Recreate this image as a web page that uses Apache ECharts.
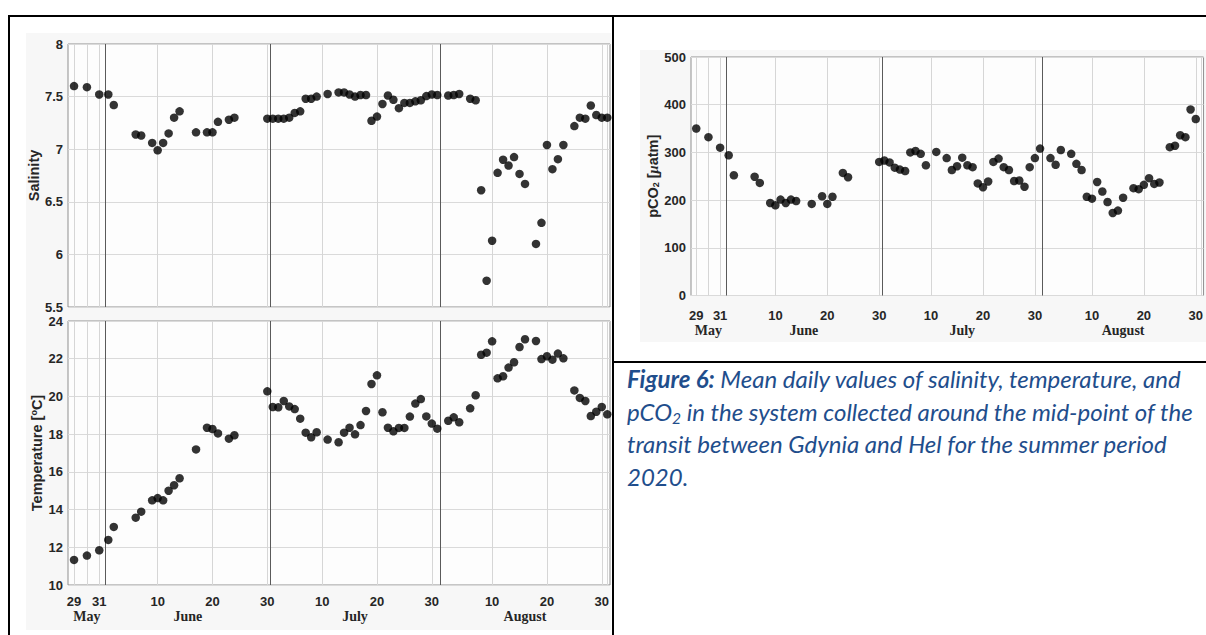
<!DOCTYPE html>
<html><head><meta charset="utf-8">
<script src="https://cdn.jsdelivr.net/npm/echarts@6/dist/echarts.min.js"></script>
<style>
html,body{margin:0;padding:0;width:1206px;height:635px;overflow:hidden;background:#fff;}
#chart{position:absolute;left:0;top:0;width:1206px;height:635px;z-index:2;}
.bg{position:absolute;background:#f7f7f7;z-index:1;}
.bd{position:absolute;background:#000;z-index:3;}
#caption{position:absolute;left:627px;top:363px;z-index:3;font-family:Lato,'Open Sans',sans-serif;font-style:italic;color:#1f4e8c;font-size:24px;line-height:32.7px;white-space:nowrap;}
#caption sub{font-size:0.65em;vertical-align:-0.2em;line-height:0;}
</style></head><body>
<div class="bg" style="left:26px;top:33px;width:585px;height:597px;"></div>
<div class="bg" style="left:640px;top:50px;width:566px;height:292px;"></div>
<div id="chart"></div>
<div class="bd" style="left:8px;top:15px;width:1198px;height:2px;"></div>
<div class="bd" style="left:8px;top:15px;width:2px;height:620px;"></div>
<div class="bd" style="left:612px;top:15px;width:2px;height:620px;"></div>
<div class="bd" style="left:612px;top:361px;width:594px;height:2px;"></div>
<div id="caption">
<div><b>Figure 6:</b> Mean daily values of salinity, temperature, and</div>
<div>pCO<sub>2</sub> in the system collected around the mid-point of the</div>
<div>transit between Gdynia and Hel for the summer period</div>
<div>2020.</div>
</div>
<script>
// x position of each daily mean on the figure's day axis (June 1 = 1; May 29-31 sit on the stretched left part)
const days = [-5.25, -2.9, -0.65, 1, 2, 6, 7, 9, 10, 11, 12, 13, 14, 17, 19, 20, 21, 23, 24, 30,
  31, 32, 33, 34, 35, 36, 37, 38, 39, 41, 43, 44, 45, 46, 47, 48, 49, 50, 51, 52, 53, 54, 55, 56, 57, 58, 59, 60, 61,
  63, 64, 65, 67, 68, 69, 70, 71, 72, 73, 74, 75, 76, 77, 79, 80, 81, 82, 83, 84, 86, 87, 88, 89, 90, 91, 92];
const salinity = [7.60, 7.59, 7.52, 7.52, 7.42, 7.14, 7.13, 7.06, 6.99, 7.06, 7.15, 7.30, 7.36, 7.16, 7.16, 7.16, 7.26, 7.28, 7.30, 7.29,
  7.29, 7.29, 7.29, 7.30, 7.345, 7.36, 7.48, 7.48, 7.50, 7.525, 7.54, 7.54, 7.52, 7.50, 7.515, 7.515, 7.27, 7.31, 7.43, 7.51, 7.47, 7.39, 7.44, 7.44, 7.455, 7.465, 7.505, 7.52, 7.515,
  7.51, 7.515, 7.525, 7.48, 7.465, 6.61, 5.75, 6.13, 6.775, 6.90, 6.845, 6.925, 6.765, 6.67, 6.10, 6.30, 7.04, 6.81, 6.905, 7.04, 7.22, 7.30, 7.29, 7.415, 7.325, 7.30, 7.30];
const temperature = [11.33, 11.56, 11.84, 12.39, 13.08, 13.57, 13.89, 14.49, 14.61, 14.49, 15.0, 15.29, 15.66, 17.19, 18.34, 18.27, 18.04, 17.76, 17.94, 20.27,
  19.44, 19.42, 19.76, 19.47, 19.33, 18.82, 18.08, 17.83, 18.1, 17.71, 17.57, 18.08, 18.34, 17.99, 18.48, 19.23, 20.66, 21.12, 19.16, 18.34, 18.15, 18.33, 18.33, 18.93, 19.62, 19.86, 18.94, 18.56, 18.29,
  18.71, 18.89, 18.63, 19.37, 20.06, 22.21, 22.32, 22.92, 20.96, 21.07, 21.53, 21.81, 22.62, 23.03, 22.94, 21.98, 22.13, 21.95, 22.27, 22.02, 20.32, 19.92, 19.76, 18.96, 19.19, 19.44, 19.05];
const pco2 = [350, 332, 310, 294, 252, 249, 236, 194, 189, 201, 194, 201, 198, 192, 208, 192, 207, 257, 248, 280,
  283, 279, 268, 264, 261, 300, 303, 297, 273, 301, 288, 263, 271, 289, 273, 269, 235, 227, 239, 280, 287, 269, 263, 240, 241, 228, 269, 288, 308,
  288, 274, 305, 297, 276, 263, 207, 203, 238, 218, 196, 173, 178, 205, 225, 223, 232, 246, 234, 237, 311, 314, 336, 332, 390, 370, null];

const tickPos = [-5.25, -0.65, 10, 20, 30, 40, 50, 60, 71, 81, 91];
const tickText = ['29', '31', '10', '20', '30', '10', '20', '30', '10', '20', '30'];
const monthPos = [-2.9, 15.5, 46, 77];
const monthText = ['May', 'June', 'July', 'August'];
const gridDays = [-5.25, -2.9, -0.65, 10, 20, 30, 40, 50, 60, 71, 81, 91, 92];
const monthEdges = [0.5, 30.5, 61.5];

const chart = echarts.init(document.getElementById('chart'), null, {renderer: 'svg'});
const sans = 'Liberation Sans, Arial, sans-serif';
const serif = 'Liberation Serif, Times New Roman, serif';

function lookup(pos, txt) {
  return function (v) {
    let best = 0, bd = 1e9;
    for (let i = 0; i < pos.length; i++) { const d = Math.abs(pos[i] - v); if (d < bd) { bd = d; best = i; } }
    return txt[best];
  };
}
const gridStyle = {show: true, backgroundColor: '#fdfdfd', borderColor: '#8f8f8f', borderWidth: 1};
function xBase(g, min, max) {
  return {type: 'value', gridIndex: g, min: min, max: max, position: 'bottom',
    axisLine: {show: false}, axisTick: {show: false}, splitLine: {show: false}};
}
function xTicks(g, min, max, margin) {
  const a = xBase(g, min, max);
  a.axisLabel = {show: true, customValues: tickPos, formatter: lookup(tickPos, tickText), margin: margin,
    fontFamily: sans, fontWeight: 'bold', fontSize: 13, color: '#262626'};
  return a;
}
function xMonths(g, min, max, margin) {
  const a = xBase(g, min, max);
  a.axisLabel = {show: true, customValues: monthPos, formatter: lookup(monthPos, monthText), margin: margin,
    fontFamily: serif, fontWeight: 'bold', fontSize: 14, color: '#262626'};
  return a;
}
function yAx(g, min, max, interval, name, gap, rich) {
  return {type: 'value', gridIndex: g, min: min, max: max, interval: interval,
    axisLine: {show: false}, axisTick: {show: false},
    splitLine: {show: true, lineStyle: {color: '#dadada', width: 1}},
    axisLabel: {margin: 5, fontFamily: sans, fontWeight: 'bold', fontSize: 13, color: '#262626'},
    name: name, nameLocation: 'middle', nameGap: gap,
    nameTextStyle: {fontFamily: sans, fontWeight: 'bold', fontSize: 14.5, color: '#262626', rich: rich || {}}};
}
function vlines(xi, yi) {
  const data = gridDays.map(d => ({xAxis: d, lineStyle: {color: '#d6d6d6', width: 1, type: 'solid'}}))
    .concat(monthEdges.map(d => ({xAxis: d, lineStyle: {color: '#5a5a5a', width: 1, type: 'solid'}})));
  return {type: 'scatter', xAxisIndex: xi, yAxisIndex: yi, data: [], z: 1, silent: true,
    markLine: {silent: true, symbol: ['none', 'none'], label: {show: false}, animation: false, data: data}};
}
function dots(xi, yi, vals) {
  return {type: 'scatter', xAxisIndex: xi, yAxisIndex: yi, z: 5, symbolSize: 8.5,
    itemStyle: {color: '#000'}, data: days.map((d, i) => [d, vals[i]]).filter(p => p[1] !== null)};
}

chart.setOption({
  animation: false,
  grid: [
    Object.assign({left: 68, top: 44, width: 542, height: 263}, gridStyle),
    Object.assign({left: 68, top: 321, width: 542, height: 264}, gridStyle),
    Object.assign({left: 691, top: 57, width: 527, height: 238.5}, gridStyle)
  ],
  xAxis: [
    Object.assign(xBase(0, -6.35, 92.5), {axisLabel: {show: false}}),
    xTicks(1, -6.35, 92.5, 10),
    xMonths(1, -6.35, 92.5, 24),
    xTicks(2, -6.26, 92.5, 13),
    xMonths(2, -6.26, 92.5, 28)
  ],
  yAxis: [
    yAx(0, 5.5, 8, 0.5, 'Salinity', 25),
    yAx(1, 10, 24, 2, 'Temperature [{sup|o}C]', 21, {sup: {fontFamily: sans, fontWeight: 'bold', fontSize: 9, verticalAlign: 'top', color: '#262626'}}),
    yAx(2, 0, 500, 100, 'pCO{sub|2} [{mu|\u03bc}atm]', 31, {
      sub: {fontFamily: sans, fontWeight: 'bold', fontSize: 9, verticalAlign: 'bottom', color: '#262626'},
      mu: {fontFamily: serif, fontStyle: 'italic', fontSize: 14.5, color: '#262626'}})
  ],
  series: [
    vlines(0, 0), vlines(1, 1), vlines(3, 2),
    dots(0, 0, salinity), dots(1, 1, temperature), dots(3, 2, pco2)
  ]
});
</script>
</body></html>
